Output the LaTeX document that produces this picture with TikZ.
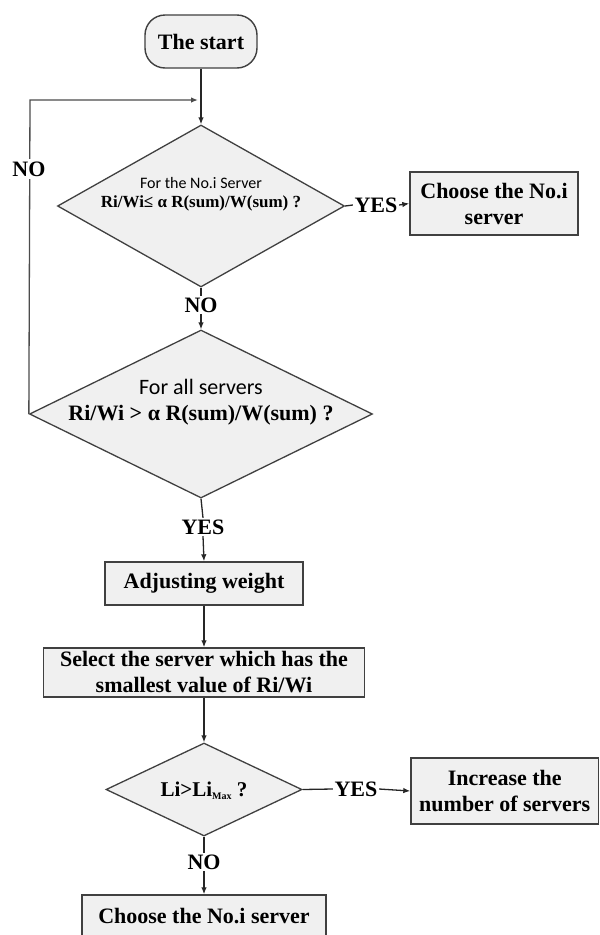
\documentclass[tikz,border=0pt]{standalone}
\usepackage{fontspec}
\setmainfont{Liberation Serif}
\newfontfamily\calib{Carlito}
\usetikzlibrary{shapes.geometric,arrows.meta}
\definecolor{boxline}{HTML}{404040}
\definecolor{boxfill}{HTML}{F0F0F0}
\begin{document}
\begin{tikzpicture}[x=1pt,y=-1pt,
  box/.style={draw=boxline,line width=1.4pt,fill=boxfill,inner sep=0pt,align=center,font=\fontsize{22}{26}\selectfont\bfseries},
  dia/.style={diamond,draw=boxline,line width=1.3pt,fill=boxfill,inner sep=0pt},
  dtext/.style={inner sep=0pt,anchor=base},
  lbl/.style={inner sep=1.5pt,font=\fontsize{22}{26}\selectfont\bfseries},
  arr/.style={-{Latex[length=7pt,width=5.5pt]}},
  conn/.style={line width=1.3pt,draw=black!85}]
\fill[white] (0,0) rectangle (600,935);
\useasboundingbox (0,0) rectangle (600,935);

% nodes
\node[box,rounded corners=20pt,minimum width=112pt,minimum height=53pt] (start) at (201,41.5) {The start};

\node[dia,minimum width=287pt,minimum height=162pt] (d1) at (201,206) {};
\node[dtext,font=\calib\fontsize{16}{19}\selectfont] (d1a) at (201,188.5) {For the No.i Server};
\node[dtext,font=\fontsize{17}{19}\selectfont\bfseries] (d1b) at (201,207.5) {Ri/Wi≤ α R(sum)/W(sum) ?};

\node[box,minimum width=168pt,minimum height=63pt] (c1) at (494,203.5) {Choose the No.i\\server};

\node[dia,minimum width=343pt,minimum height=168pt] (d2) at (201,414) {};
\node[dtext,font=\calib\fontsize{22}{26}\selectfont] (d2a) at (201,394.5) {For all servers};
\node[dtext,font=\fontsize{22}{26}\selectfont\bfseries] (d2b) at (201,420.5) {Ri/Wi > α R(sum)/W(sum) ?};

\node[box,minimum width=198pt,minimum height=43pt] (adj) at (204,583.5) {Adjusting weight};
\node[box,minimum width=321pt,minimum height=49pt] (sel) at (204,672.5) {Select the server which has the\\smallest value of Ri/Wi};

\node[dia,minimum width=196pt,minimum height=93pt] (d3) at (204,789.5) {};
\node[dtext,font=\fontsize{21}{24}\selectfont\bfseries] (d3a) at (204,796.5) {Li>Li\raisebox{-0.35ex}{\fontsize{10}{10}\selectfont Max} ?};

\node[box,minimum width=187.5pt,minimum height=66pt] (inc) at (504.75,791) {Increase the\\number of servers};
\node[box,minimum width=244pt,minimum height=42pt] (fin) at (204,916) {Choose the No.i server};

% labels
\node[lbl] (yes1) at (376,205) {YES};
\node[lbl] (no1) at (201,305) {NO};
\node[lbl] (yes2) at (203,527) {YES};
\node[lbl] (yes3) at (356,789) {YES};
\node[lbl] (no3) at (204,862) {NO};

\coordinate (lp) at (30,100);
\coordinate (lm) at (198,100);

% connectors
\draw[conn,arr] (start) -- (d1);
\draw[conn,arr,draw=black!70] (d2.west) -- (lp) -- (lm);
\node[lbl,fill=white,inner ysep=3pt] (noloop) at (29,169) {NO};
\draw[conn] (d1.east) -- (yes1.west);
\draw[conn,arr] (yes1.east) -- (c1.west);
\draw[conn] (d1.south) -- (no1.north);
\draw[conn,arr] (no1.south) -- (d2.north);
\draw[conn] (d2.south) -- (yes2.north);
\draw[conn,arr] (yes2.south) -- (adj.north);
\draw[conn,arr] (adj) -- (sel);
\draw[conn,arr] (sel) -- (d3);
\draw[conn] (d3.east) -- (yes3.west);
\draw[conn,arr] (yes3.east) -- (inc.west);
\draw[conn] (d3.south) -- (no3.north);
\draw[conn,arr] (no3.south) -- (fin.north);
\end{tikzpicture}
\end{document}
